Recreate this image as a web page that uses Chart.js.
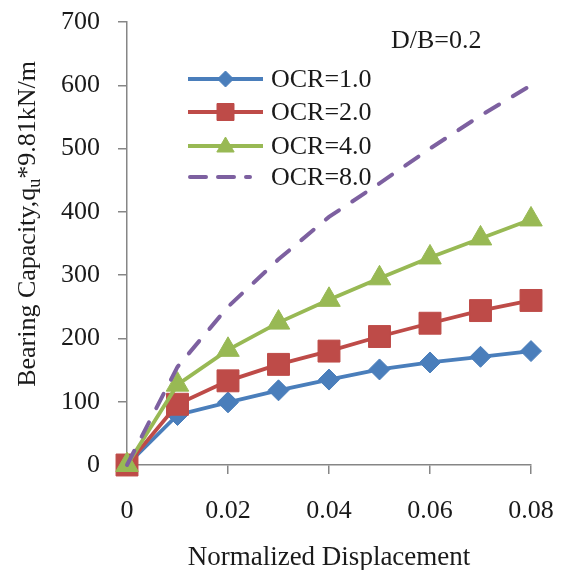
<!DOCTYPE html>
<html><head><meta charset="utf-8">
<script src="https://cdn.jsdelivr.net/npm/chart.js@4/dist/chart.umd.min.js"></script>
<style>html,body{margin:0;padding:0;background:#fff}#wrap{width:565px;height:570px;position:relative}</style>
</head><body><div id="wrap"><canvas id="c"></canvas></div>
<script>
const displacement = [0, 0.01, 0.02, 0.03, 0.04, 0.05, 0.06, 0.07, 0.08];
const ocr1 = [0, 79, 99, 118, 135, 151, 162, 171, 180];
const ocr2 = [0, 96, 133, 159, 180, 203, 224, 244, 260];
const ocr4 = [0, 127, 182, 225, 261, 295, 328, 358, 388];
const ocr8 = [0, 155, 250, 325, 392, 445, 500, 552, 600];
const seriesLabels = ['OCR=1.0', 'OCR=2.0', 'OCR=4.0', 'OCR=8.0'];
const xTicks = [0, 0.02, 0.04, 0.06, 0.08];
const xTickLabels = ['0', '0.02', '0.04', '0.06', '0.08'];
const yTicks = [0, 100, 200, 300, 400, 500, 600, 700];
const annotationText = 'D/B=0.2';
const xTitle = 'Normalized Displacement';
const yTitleParts = ['Bearing Capacity,q', 'u', '*9.81kN/m'];

const FONT = '"Liberation Serif", "Times New Roman", serif';
const TXT = '#1a1a1a';
const AX = '#868686';

function pts(vals){ return displacement.map((x,i)=>({x:x, y:vals[i]})); }

const datasets = [
  {label: seriesLabels[0], data: pts(ocr1), borderColor:'#4A7EBB', backgroundColor:'#4A7EBB',
   borderWidth:3.8, pointStyle:'rectRot', pointRadius:10.5, pointHoverRadius:10.5, pointBorderWidth:1, order:4, legendRadius:8},
  {label: seriesLabels[1], data: pts(ocr2), borderColor:'#BE4B48', backgroundColor:'#BE4B48',
   borderWidth:3.8, pointStyle:'rect', pointRadius:15.5, pointHoverRadius:15.5, pointBorderWidth:1, order:3, legendRadius:12},
  {label: seriesLabels[2], data: pts(ocr4), borderColor:'#98B954', backgroundColor:'#98B954',
   borderWidth:3.8, pointStyle:'triangle', pointRadius:13, pointHoverRadius:13, pointBorderWidth:1, order:2, legendRadius:10},
  {label: seriesLabels[3], data: pts(ocr8), borderColor:'#7D60A0', backgroundColor:'#7D60A0',
   borderWidth:4, borderDash:[16,16], borderCapStyle:'round', pointRadius:0, pointHoverRadius:0, order:1, legendRadius:0}
];
datasets.forEach(d=>{ d.clip = false; d.tension = 0; d.fill = false; });

const textPlugin = {
  id:'texts',
  afterDraw(chart){
    const ctx = chart.ctx;
    ctx.save();
    ctx.fillStyle = TXT;
    ctx.font = '26px ' + FONT;
    ctx.textAlign = 'left'; ctx.textBaseline = 'alphabetic';
    ctx.fillText(annotationText, 391, 48);
    ctx.font = '27px ' + FONT;
    ctx.textAlign = 'center';
    ctx.fillText(xTitle, (chart.chartArea.left + chart.chartArea.right)/2, 565);
    ctx.translate(35, 224);
    ctx.rotate(-Math.PI/2);
    const big = '26px ' + FONT, small = '18px ' + FONT;
    ctx.font = big; const w1 = ctx.measureText(yTitleParts[0]).width;
    const w3 = ctx.measureText(yTitleParts[2]).width;
    ctx.font = small; const w2 = ctx.measureText(yTitleParts[1]).width;
    let x = -(w1 + w2 + w3)/2;
    ctx.textAlign = 'left';
    ctx.font = big; ctx.fillText(yTitleParts[0], x, 0); x += w1;
    ctx.font = small; ctx.fillText(yTitleParts[1], x, 5); x += w2;
    ctx.font = big; ctx.fillText(yTitleParts[2], x, 0);
    ctx.restore();

    ctx.save();
    const rows = [79, 112, 146, 177];
    const x0 = 188, x1 = 263, tx = 271;
    chart.data.datasets.forEach((d, i)=>{
      const y = rows[i];
      ctx.strokeStyle = d.borderColor;
      ctx.lineWidth = d.borderWidth;
      if (d.borderDash) { ctx.setLineDash([16, 12]); ctx.lineCap = 'round'; }
      else { ctx.setLineDash([]); ctx.lineCap = 'butt'; }
      ctx.beginPath();
      if (d.borderDash) { ctx.moveTo(x0 + 2, y); ctx.lineTo(250, y); }
      else { ctx.moveTo(x0, y); ctx.lineTo(x1, y); }
      ctx.stroke();
      ctx.setLineDash([]); ctx.lineCap = 'butt';
      if (d.legendRadius > 0) {
        ctx.fillStyle = d.backgroundColor;
        ctx.lineWidth = 1;
        Chart.helpers.drawPoint(ctx, {pointStyle:d.pointStyle, radius:d.legendRadius, rotation:0, borderWidth:1}, (x0+x1)/2, d.pointStyle==='triangle'? y+1 : y);
      }
      ctx.fillStyle = TXT;
      ctx.font = '26px ' + FONT;
      ctx.textAlign = 'left'; ctx.textBaseline = 'middle';
      ctx.fillText(d.label, tx, y + 1);
    });
    ctx.restore();
  }
};

new Chart(document.getElementById('c'), {
  type:'line',
  data:{datasets: datasets},
  options:{
    responsive:true, maintainAspectRatio:false, animation:false,
    layout:{padding:{left:0, top:22, right:34, bottom:0}},
    plugins:{legend:{display:false}, tooltip:{enabled:false}},
    scales:{
      x:{
        type:'linear', min:0, max:0.08,
        afterBuildTicks(s){ s.ticks = xTicks.map(v=>({value:v})); },
        afterFit(s){ s.height = 105; s.paddingLeft = 0; s.paddingRight = 0; },
        ticks:{ font:{family:FONT, size:26}, color:TXT, padding:22, maxRotation:0, autoSkip:false,
          callback:(v, i)=> xTickLabels[i] },
        grid:{ drawOnChartArea:false, drawTicks:true, tickLength:9, color:AX, lineWidth:1.5 },
        border:{ color:AX, width:1.5 }
      },
      y:{
        type:'linear', min:0, max:700,
        afterBuildTicks(s){ s.ticks = yTicks.map(v=>({value:v})); },
        afterFit(s){ s.width = 127; s.paddingTop = 0; s.paddingBottom = 0; },
        ticks:{ font:{family:FONT, size:26}, color:TXT, padding:18, autoSkip:false,
          callback:(v)=> String(v) },
        grid:{ drawOnChartArea:false, drawTicks:true, tickLength:9, color:AX, lineWidth:1.5 },
        border:{ color:AX, width:1.5 }
      }
    }
  },
  plugins:[textPlugin]
});
</script>
</body></html>
